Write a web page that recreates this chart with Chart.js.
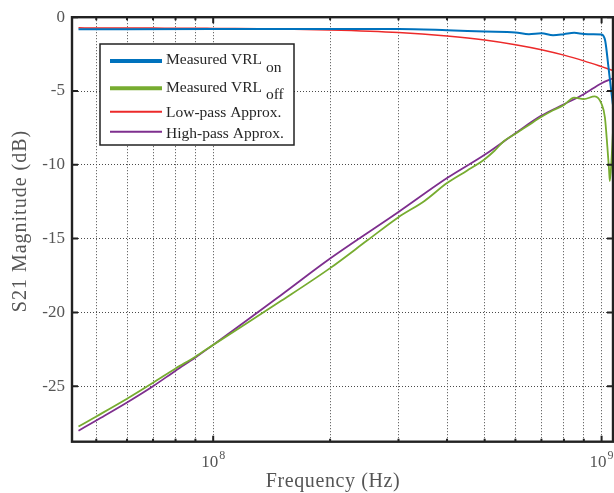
<!DOCTYPE html>
<html>
<head>
<meta charset="utf-8">
<script src="https://cdn.jsdelivr.net/npm/chart.js@4.4.0/dist/chart.umd.min.js"></script>
<style>
  html, body { margin: 0; padding: 0; background: #fff; }
</style>
</head>
<body>
<canvas id="chart" width="614" height="493"></canvas>
<script>
// Frequencies (Hz) and S21 magnitudes (dB)
const freqOn = [4.5e7, 1e8, 2e8, 3e8, 4e8, 5e8, 6e8, 6.5e8, 7e8, 7.5e8, 8e8, 8.5e8, 9e8, 9.5e8, 1e9, 1.0216e9, 1.0418e9, 1.0563e9, 1.069e9];
const vrlOn = [-0.82, -0.8, -0.8, -0.8, -0.88, -0.97, -1.03, -1.15, -1.09, -1.22, -1.15, -1.06, -1.13, -1.15, -1.17, -1.6, -3.4, -4.76, -5.9];

const freqOff = [4.5e7, 5e7, 6e7, 7e7, 8e7, 9e7, 1e8, 1.5e8, 2e8, 2.5e8, 3e8, 3.5e8, 4e8, 4.5e8, 5e8, 5.3e8, 5.6e8, 6e8, 6.5e8, 7e8, 7.5e8, 8e8, 8.5e8, 9e8, 9.6e8, 1e9, 1.02e9, 1.035e9, 1.045e9, 1.05e9, 1.06e9, 1.07e9];
const vrlOff = [-27.73, -27.05, -25.85, -24.77, -23.8, -23.0, -22.2, -19.2, -17.0, -15.1, -13.55, -12.45, -11.24, -10.4, -9.62, -9.05, -8.4, -7.9, -7.3, -6.75, -6.3, -5.95, -5.45, -5.55, -5.36, -5.88, -6.8, -8.8, -10.3, -11.1, -9.8, -7.7];

const freqApprox = [4.5e7, 5e7, 6e7, 7e7, 8e7, 9e7, 1e8, 1.5e8, 2e8, 3e8, 4e8, 5e8, 6e8, 7e8, 8e8, 9e8, 1e9, 1.07e9];
const lowPass = [-0.72, -0.73, -0.74, -0.74, -0.75, -0.75, -0.76, -0.8, -0.86, -1.03, -1.27, -1.54, -1.86, -2.2, -2.57, -2.96, -3.35, -3.61];
const highPass = [-28.02, -27.32, -26.1, -25.0, -23.95, -23.05, -22.2, -18.8, -16.35, -13.2, -10.9, -9.32, -7.86, -6.67, -5.9, -5.22, -4.47, -4.14];

const xTicks = [5e7, 6e7, 7e7, 8e7, 9e7, 1e8, 2e8, 3e8, 4e8, 5e8, 6e8, 7e8, 8e8, 9e8, 1e9];
const xMajor = [1e8, 1e9];
const yTicks = [-25, -20, -15, -10, -5, 0];

const legendNames = ['Measured VRL', 'Measured VRL', 'Low-pass Approx.', 'High-pass Approx.'];
const legendSubs = ['on', 'off', '', ''];

const colors = ['#0072BD', '#77AC30', '#EC2A2A', '#7E2F8E'];
const serif = "'Liberation Serif', 'Times New Roman', serif";

function pts(xs, ys) {
    return xs.map((f, i) => ({ x: f, y: ys[i] }));
}

// Box, inward ticks, tick labels on x, axis titles and the legend
const decorations = {
    id: 'decorations',
    afterDraw(chart) {
        const { ctx, chartArea: a, scales: { x, y } } = chart;
        ctx.save();

        ctx.strokeStyle = '#222';
        ctx.lineWidth = 2;
        ctx.beginPath();
        xTicks.forEach(v => {
            const px = x.getPixelForValue(v);
            const len = xMajor.includes(v) ? 6 : 3;
            ctx.moveTo(px, a.bottom); ctx.lineTo(px, a.bottom - len);
            ctx.moveTo(px, a.top); ctx.lineTo(px, a.top + len);
        });
        yTicks.forEach(v => {
            const py = y.getPixelForValue(v);
            ctx.moveTo(a.left, py); ctx.lineTo(a.left + 6, py);
            ctx.moveTo(a.right, py); ctx.lineTo(a.right - 6, py);
        });
        ctx.stroke();
        ctx.lineWidth = 2.4;
        ctx.strokeRect(a.left, a.top, a.right - a.left, a.bottom - a.top);

        // x tick labels 10^n
        ctx.fillStyle = '#555';
        ctx.textBaseline = 'alphabetic';
        xMajor.forEach(v => {
            const px = x.getPixelForValue(v);
            const exp = String(Math.round(Math.log10(v)));
            ctx.font = '17px ' + serif;
            const wBase = ctx.measureText('10').width;
            ctx.font = '12px ' + serif;
            const wExp = ctx.measureText(exp).width;
            const left = px - (wBase + 1 + wExp) / 2;
            ctx.textAlign = 'left';
            ctx.font = '17px ' + serif;
            ctx.fillText('10', left, 466.5);
            ctx.font = '12px ' + serif;
            ctx.fillText(exp, left + wBase + 1, 459);
        });

        // axis titles
        ctx.font = '20px ' + serif;
        ctx.textAlign = 'center';
        ctx.letterSpacing = '0.6px';
        ctx.fillText('Frequency (Hz)', 333, 487);
        ctx.save();
        ctx.translate(26, 221);
        ctx.rotate(-Math.PI / 2);
        ctx.letterSpacing = '1px';
        ctx.fillText('S21 Magnitude (dB)', 0, 0);
        ctx.restore();
        ctx.letterSpacing = '0px';

        // legend
        ctx.fillStyle = '#fff';
        ctx.fillRect(100, 44, 194, 101);
        ctx.strokeStyle = '#222';
        ctx.lineWidth = 1.5;
        ctx.strokeRect(100, 44, 194, 101);
        const lineY = [61, 88.3, 111.7, 131.7];
        const textY = [64.3, 91.7, 117.3, 138.3];
        const widths = [4, 4, 2, 2];
        ctx.textAlign = 'left';
        ctx.font = '15.5px ' + serif;
        chart.data.datasets.forEach((ds, i) => {
            ctx.strokeStyle = ds.borderColor;
            ctx.lineWidth = widths[i];
            ctx.beginPath();
            ctx.moveTo(110, lineY[i]);
            ctx.lineTo(162, lineY[i]);
            ctx.stroke();
            ctx.fillStyle = '#262626';
            ctx.fillText(legendNames[i], 166, textY[i]);
            if (legendSubs[i]) {
                const w = ctx.measureText(legendNames[i]).width;
                ctx.fillText(legendSubs[i], 166 + w + 4, textY[i] + 7.2);
            }
        });

        ctx.restore();
    }
};

const gridOpts = { color: '#4a4a4a', lineWidth: 1, drawTicks: false };

new Chart(document.getElementById('chart'), {
    type: 'line',
    data: {
        datasets: [
            { label: 'Measured VRL on', data: pts(freqOn, vrlOn), borderColor: colors[0], borderWidth: 2 },
            { label: 'Measured VRL off', data: pts(freqOff, vrlOff), borderColor: colors[1], borderWidth: 1.8 },
            { label: 'Low-pass Approx.', data: pts(freqApprox, lowPass), borderColor: colors[2], borderWidth: 1.5 },
            { label: 'High-pass Approx.', data: pts(freqApprox, highPass), borderColor: colors[3], borderWidth: 1.8 }
        ]
    },
    options: {
        responsive: false,
        animation: false,
        layout: { padding: { top: 16, right: 1, left: 0, bottom: 0 } },
        elements: { point: { radius: 0 }, line: { cubicInterpolationMode: 'monotone' } },
        plugins: { legend: { display: false }, tooltip: { enabled: false } },
        scales: {
            x: {
                type: 'logarithmic',
                min: 4.33e7,
                max: 1.07e9,
                afterBuildTicks: s => { s.ticks = xTicks.map(v => ({ value: v })); },
                afterFit: s => { s.height = 51.3; },
                grid: gridOpts,
                border: { display: false, dash: [1, 2] },
                ticks: { display: false }
            },
            y: {
                min: -28.76,
                max: 0,
                afterBuildTicks: s => { s.ticks = yTicks.map(v => ({ value: v })); },
                afterFit: s => { s.width = 72; },
                grid: gridOpts,
                border: { display: false, dash: [1, 2] },
                ticks: {
                    autoSkip: false,
                    padding: 7,
                    color: '#555',
                    font: { family: serif, size: 17 },
                    callback: v => String(v)
                }
            }
        }
    },
    plugins: [decorations]
});
</script>
</body>
</html>
